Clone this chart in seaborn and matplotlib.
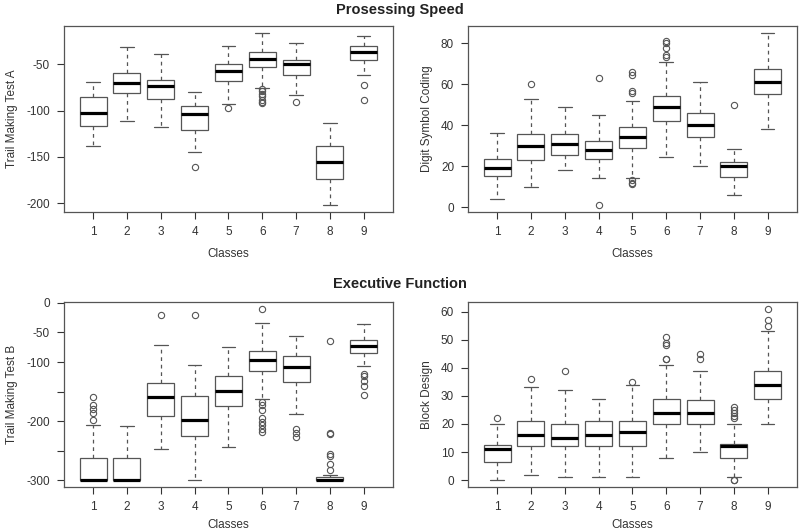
import numpy as np
import pandas as pd
import seaborn as sns
import matplotlib.pyplot as plt

# box summaries, one entry per class 1..9:
# lower whisker, lower hinge, median, upper hinge, upper whisker, outliers
classes = [1, 2, 3, 4, 5, 6, 7, 8, 9]

tmtA_lo = [-138, -111, -118, -145, -93, -75, -83, -202, -61]
tmtA_q1 = [-116.5, -80.5, -87.5, -120.5, -68, -52.5, -61, -174, -45]
tmtA_med = [-102, -70, -73, -104, -57, -44, -49.5, -155, -37]
tmtA_q3 = [-85, -59.5, -67, -95, -49.5, -37, -45, -138.5, -30]
tmtA_hi = [-69, -31.5, -38.5, -79.5, -30, -16, -26.5, -113, -19]
tmtA_out = [[], [], [], [-161], [-97.5], [-76.5, -79, -81.5, -84.5, -88, -90.5, -92], [-91], [], [-72.5, -89]]

dsc_lo = [4, 10, 18, 14, 14.4, 24.5, 20, 6, 38]
dsc_q1 = [15, 23, 25.5, 23.5, 29, 42, 34, 14.6, 55]
dsc_med = [19, 29.7, 31, 28, 34, 49, 40, 20, 61]
dsc_q3 = [23.6, 35.5, 35.5, 32.5, 39.3, 54, 45.8, 22, 67.5]
dsc_hi = [36, 53, 49, 45, 52, 71, 61, 28.5, 85]
dsc_out = [[], [60], [], [63, 1], [66, 64.5, 56.5, 55.5, 13.1, 12, 11.1], [81, 80, 77.5, 74, 73.4], [], [50], []]

tmtB_lo = [-300, -300, -246.5, -300, -243.5, -163, -187.5, -300, -106]
tmtB_q1 = [-300, -300, -192, -226, -175, -114.5, -134.5, -300, -85.5]
tmtB_med = [-300, -300, -160, -198, -149.5, -96.5, -109, -300, -73]
tmtB_q3 = [-262, -263, -136, -157.5, -123, -81.5, -90.5, -295, -63.5]
tmtB_hi = [-207, -209, -71, -105, -74, -34, -55.5, -292, -36]
tmtB_out = [[-160, -173, -179.5, -185.5, -198], [], [-20.5], [-21],  [],
            [-10, -168, -173, -181, -195, -201, -207, -213.5, -219],
            [-214, -221, -226.5], [-64.5, -219.5, -222, -256, -259.5, -273.5, -282],
            [-120, -124.5, -132, -140.5, -155]]

bd_lo = [0, 2, 1, 1, 1, 8, 10, 1, 20]
bd_q1 = [6.5, 12, 12, 12, 12, 20, 20, 8, 29]
bd_med = [11, 16, 15, 16, 17, 24, 24, 12, 34]
bd_q3 = [12.5, 21, 20, 21, 21, 29, 28.5, 13, 39]
bd_hi = [20, 33, 32, 29, 34, 41, 39, 20, 53]
bd_out = [[22], [36], [39], [], [35], [51, 49, 48, 43, 43], [45, 43], [26, 25, 24, 23, 22, 0, 0], [61, 57, 55]]

B = 20  # copies per hinge/median so the quartiles land on the read values


def build(lo, q1, med, q3, hi, out):
    rows = []
    for c, a, b, m, d, e, o in zip(classes, lo, q1, med, q3, hi, out):
        vals = list(o) + [a] + [b] * B + [m] * B + [d] * B + [e]
        rows += [(str(c), v) for v in vals]
    return pd.DataFrame(rows, columns=["Classes", "value"])


panels = [
    (build(tmtA_lo, tmtA_q1, tmtA_med, tmtA_q3, tmtA_hi, tmtA_out), "Trail Making Test A",
     [-200, -150, -100, -50], ["-200", "-150", "-100", "-50"]),
    (build(dsc_lo, dsc_q1, dsc_med, dsc_q3, dsc_hi, dsc_out), "Digit Symbol Coding",
     [0, 20, 40, 60, 80], ["0", "20", "40", "60", "80"]),
    (build(tmtB_lo, tmtB_q1, tmtB_med, tmtB_q3, tmtB_hi, tmtB_out), "Trail Making Test B",
     [-300, -250, -200, -150, -100, -50, 0], ["-300", "", "-200", "", "-100", "-50", "0"]),
    (build(bd_lo, bd_q1, bd_med, bd_q3, bd_hi, bd_out), "Block Design",
     [0, 10, 20, 30, 40, 50, 60], ["0", "10", "20", "30", "40", "50", "60"]),
]

sns.set_style("ticks")
plt.rcParams["font.family"] = ["Liberation Sans", "DejaVu Sans"]
txt = "#333333"
edge = "#555555"

fig = plt.figure(figsize=(8, 5.32), dpi=100)
rects = [
    [0.080, 0.6015, 0.411, 0.3496],
    [0.585, 0.6015, 0.411, 0.3496],
    [0.080, 0.0846, 0.411, 0.3477],
    [0.585, 0.0846, 0.411, 0.3477],
]
xpads = [7, 7, 4.5, 4.5]

for rect, xpad, (df, ylab, yt, ytl) in zip(rects, xpads, panels):
    ax = fig.add_axes(rect)
    sns.boxplot(data=df, x="Classes", y="value", ax=ax, color="white", linecolor=edge,
                width=0.8, whis=1.5, linewidth=0.9, fliersize=4.5,
                flierprops=dict(marker="o", markerfacecolor="none", markeredgecolor=edge, markeredgewidth=0.8),
                whiskerprops=dict(linestyle=(0, (3, 3))),
                medianprops=dict(color="black", linewidth=2.3))
    lo, hi = df["value"].min(), df["value"].max()
    pad = (hi - lo) * 0.04
    ax.set_ylim(lo - pad, hi + pad)
    ax.set_xlim(-0.86, 8.86)
    ax.set_yticks(yt)
    ax.set_yticklabels(ytl)
    ax.set_ylabel(ylab, fontsize=8.5, color=txt, labelpad=6)
    ax.set_xlabel("Classes", fontsize=8.5, color=txt, labelpad=xpad)
    ax.tick_params(axis="both", labelsize=8.5, colors=txt, length=5, width=0.8, pad=5)
    for s in ax.spines.values():
        s.set_visible(True)
        s.set_color(edge)
        s.set_linewidth(0.9)

fig.text(0.5, 1 - 10 / 532, "Prosessing Speed", ha="center", va="center",
         fontsize=10.5, fontweight="bold", color="#222222")
fig.text(0.5, 1 - 284 / 532, "Executive Function", ha="center", va="center",
         fontsize=10.5, fontweight="bold", color="#222222")

fig.savefig("out.png", dpi=100, facecolor="white")
